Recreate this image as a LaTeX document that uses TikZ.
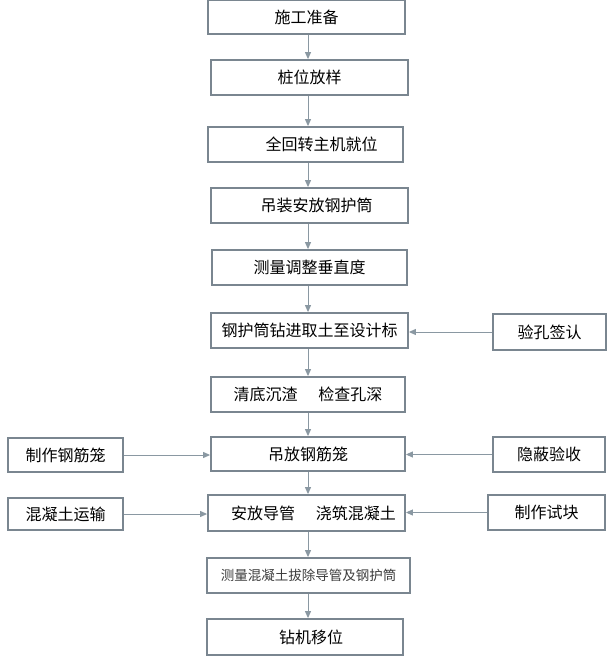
\documentclass[tikz,border=0pt]{standalone}
\usepackage{fontspec}
\usepackage{xcolor}
\usetikzlibrary{arrows.meta}
\newfontfamily\cjk{Noto Sans CJK SC}
\definecolor{GrisCaja}{RGB}{122,134,144}
\definecolor{GrisFlecha}{RGB}{138,152,162}
\definecolor{GrisTexto}{RGB}{60,60,60}

\tikzset{
  paso/.style={draw=GrisCaja,line width=1.8pt,fill=white,minimum height=35pt,
    inner sep=0pt,font=\cjk\fontsize{16}{19}\selectfont,text=black},
  flujo/.style={draw=GrisFlecha,line width=1pt,-{Triangle[length=7pt,width=6pt]}},
}

\begin{document}
\begin{tikzpicture}[x=1pt,y=-1pt]
  \useasboundingbox (0,0) rectangle (612,663);

  % Columna principal
  \node[paso,minimum width=197pt,minimum height=34pt] (prep) at (306.5,17) {施工准备};
  \node[paso,minimum width=197pt] (pos) at (309.5,77.5) {桩位放样};
  \node[paso,minimum width=195pt] (maq) at (305.5,144.5) {\hspace*{32pt}全回转主机就位};
  \node[paso,minimum width=197pt] (camisa) at (309.5,205.5) {\hspace*{14pt}吊装安放钢护筒};
  \node[paso,minimum width=195pt] (vert) at (309.5,267.5) {测量调整垂直度};
  \node[paso,minimum width=197pt] (perf) at (309.5,330.5) {钢护筒钻进取土至设计标};
  \node[paso,minimum width=194pt] (limp) at (308,394.5) {清底沉渣\hspace{1.3em}检查孔深};
  \node[paso,minimum width=194pt,minimum height=34pt] (jaula) at (308,454) {吊放钢筋笼};
  \node[paso,minimum width=197pt,minimum height=36pt] (vaciado) at (306.5,513) {\hspace*{14pt}安放导管\hspace{1.3em}浇筑混凝土};
  \node[paso,minimum width=203pt,font=\cjk\fontsize{13.5}{16}\selectfont,text=GrisTexto] (retiro) at (308.5,575.5) {测量混凝土拔除导管及钢护筒};
  \node[paso,minimum width=196pt,minimum height=36pt] (mover) at (305,637) {\hspace*{12pt}钻机移位};

  % Cajas laterales
  \node[paso,minimum width=115pt,minimum height=34pt] (fabjaula) at (65.5,455) {制作钢筋笼};
  \node[paso,minimum width=115pt,minimum height=32pt] (transp) at (65.5,514) {混凝土运输};
  \node[paso,minimum width=113pt,minimum height=36pt] (insp) at (549.5,332) {验孔签认};
  \node[paso,minimum width=112pt] (oculta) at (549,454.5) {隐蔽验收};
  \node[paso,minimum width=117pt] (probeta) at (546.5,512.5) {制作试块};

  % Flechas verticales
  \coordinate (eje) at (308,0);
  \foreach \a/\b in {prep/pos,pos/maq,maq/camisa,camisa/vert,vert/perf,perf/limp,
                     limp/jaula,jaula/vaciado,vaciado/retiro,retiro/mover}
    \draw[flujo] (eje |- \a.south) -- (eje |- \b.north);

  % Flechas horizontales
  \draw[flujo] (insp.west) -- (insp.west -| perf.east);
  \draw[flujo] (fabjaula.east) -- (fabjaula.east -| jaula.west);
  \draw[flujo] (oculta.west) -- (oculta.west -| jaula.east);
  \draw[flujo] (transp.east) -- (transp.east -| vaciado.west);
  \draw[flujo] (probeta.west) -- (probeta.west -| vaciado.east);
\end{tikzpicture}
\end{document}
